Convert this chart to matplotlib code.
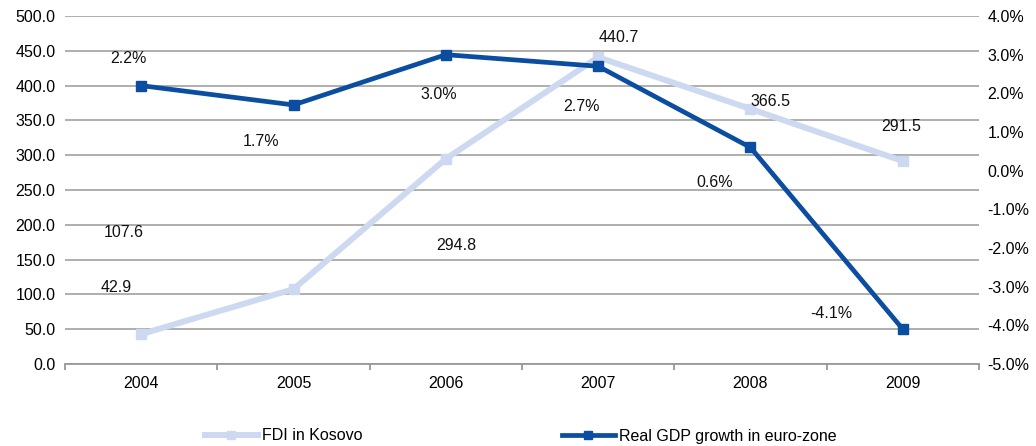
import matplotlib
matplotlib.use("Agg")
import matplotlib.pyplot as plt
from matplotlib.lines import Line2D
import numpy as np

plt.rcParams['font.family'] = ['Liberation Sans', 'DejaVu Sans']
plt.rcParams['font.size'] = 11.5

years = ["2004", "2005", "2006", "2007", "2008", "2009"]
fdi = [42.9, 107.6, 294.8, 440.7, 366.5, 291.5]
gdp = [2.2, 1.7, 3.0, 2.7, 0.6, -4.1]

# label offsets (in pixels) from each point
fdi_off = [(-25, 47), (-170, 57), (10, -87), (21, 20), (20, 7), (-2, 35)]
gdp_off = [(-13, 27), (-32, -37), (-7, -40), (-17, -40), (-36, -35), (-72, 16)]

light = "#CCD9F1"
dark = "#0B4DA0"
grid_c = "#999999"

fig = plt.figure(figsize=(10.36, 4.46), dpi=100)
ax = fig.add_axes([65/1036, (446-364)/446, (979-65)/1036, (364-16)/446])
ax2 = ax.twinx()

x = np.arange(len(years))
ax.plot(x, fdi, color=light, lw=4.3, marker="s", ms=6.5, zorder=3)
ax2.plot(x, gdp, color=dark, lw=3.4, marker="s", ms=6.5, zorder=3)

ax.set_xlim(-0.5, len(years) - 0.5)
ax.set_ylim(0, 500)
ax.set_yticks(np.arange(0, 501, 50))
ax.set_yticklabels([f"{v:.1f}" for v in np.arange(0, 501, 50)])
ax2.set_ylim(-5, 4)
ax2.set_yticks(np.arange(-5, 4.1, 1))
ax2.set_yticklabels([f"{v:.1f}%" for v in np.arange(-5, 4.1, 1)])

ax.grid(axis="y", color=grid_c, lw=1.1)
ax.set_axisbelow(True)
for a in (ax, ax2):
    for s in ("left", "right", "top"):
        a.spines[s].set_visible(False)
ax.spines["bottom"].set_color(grid_c)
ax.spines["bottom"].set_linewidth(1.3)
ax2.spines["bottom"].set_visible(False)

ax.set_xticks(x)
ax.set_xticklabels(years)
ax.set_xticks(np.arange(-0.5, len(years)), minor=True)
ax.tick_params(axis="x", which="major", length=0, pad=9)
ax.tick_params(axis="x", which="minor", length=4, color=grid_c, width=1.3)
ax.tick_params(axis="y", length=0, pad=7)
ax2.tick_params(axis="y", length=0, pad=6)

px = 72 / 100
for xi, v, (dx, dy) in zip(x, fdi, fdi_off):
    ax.annotate(f"{v:.1f}", (xi, v), xytext=(dx * px, dy * px), textcoords="offset points",
                ha="center", va="center", color="#111111")
for xi, v, (dx, dy) in zip(x, gdp, gdp_off):
    ax2.annotate(f"{v:.1f}%", (xi, v), xytext=(dx * px, dy * px), textcoords="offset points",
                 ha="center", va="center", color="#111111")

handles = [Line2D([], [], color=light, lw=4.3, marker="s", ms=5.5),
           Line2D([], [], color=dark, lw=3.4, marker="s", ms=5.5)]
fig.legend(handles[:1], ["FDI in Kosovo"], loc="center left", bbox_to_anchor=(205/1036, 1 - 436/446),
           frameon=False, handlelength=3.3, handletextpad=0.25, borderpad=0, borderaxespad=0)
fig.legend(handles[1:], ["Real GDP growth in euro-zone"], loc="center left",
           bbox_to_anchor=(562/1036, 1 - 436/446),
           frameon=False, handlelength=3.3, handletextpad=0.25, borderpad=0, borderaxespad=0)

fig.savefig("out.png", dpi=100)
